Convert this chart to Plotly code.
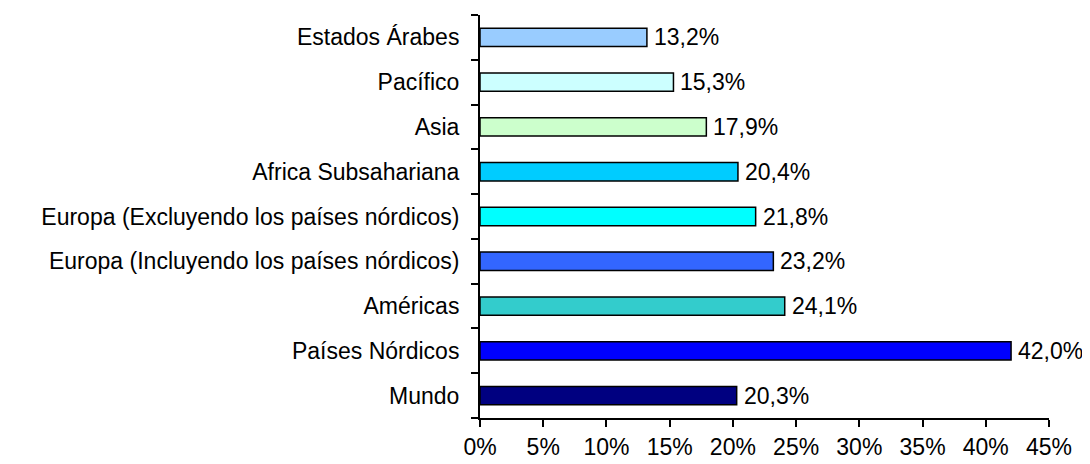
import plotly.graph_objects as go

categories = ["Mundo", "Países Nórdicos", "Américas",
              "Europa (Incluyendo los países nórdicos)",
              "Europa (Excluyendo los países nórdicos)",
              "Africa Subsahariana", "Asia", "Pacífico", "Estados Árabes"]
values = [20.3, 42.0, 24.1, 23.2, 21.8, 20.4, 17.9, 15.3, 13.2]
colors = ["#000080", "#0000FF", "#33CCCC", "#3366FF", "#00FFFF",
          "#00CCFF", "#CCFFCC", "#CCFFFF", "#99CCFF"]
tick_vals = [0, 5, 10, 15, 20, 25, 30, 35, 40, 45]
tick_text = [f"{v}%" for v in tick_vals]

labels = [f"{v:.1f}".replace(".", ",") + "%" for v in values]

FONT = "Liberation Sans, Arial, sans-serif"
FS = 23

fig = go.Figure(go.Bar(
    x=values, y=categories, orientation="h",
    marker=dict(color=colors, line=dict(color="black", width=1.5)),
    hoverinfo="x+y",
))

for v, c, t in zip(values, categories, labels):
    fig.add_annotation(x=v, y=c, text=t, showarrow=False, xanchor="left",
                       yanchor="middle", xshift=5,
                       font=dict(family=FONT, size=FS, color="black"))

fig.update_layout(
    width=1082, height=456,
    margin=dict(l=472, r=41, t=7, b=46),
    paper_bgcolor="white", plot_bgcolor="white",
    bargap=0.59, showlegend=False,
    font=dict(family=FONT, size=FS, color="black"),
)
fig.update_xaxes(range=[0, 45], tickvals=tick_vals, ticktext=tick_text,
                 showgrid=False, zeroline=False, showline=True,
                 linecolor="black", linewidth=2, ticks="outside",
                 ticklen=7, tickwidth=2, tickcolor="black",
                 tickfont=dict(family=FONT, size=FS), automargin=False)
fig.update_yaxes(showgrid=False, zeroline=False, showline=True,
                 linecolor="black", linewidth=2, ticks="outside",
                 tickson="boundaries", ticklen=7, tickwidth=2,
                 tickcolor="black", tickfont=dict(family=FONT, size=FS),
                 ticklabelstandoff=14, automargin=False)

fig.write_html("out.html")
